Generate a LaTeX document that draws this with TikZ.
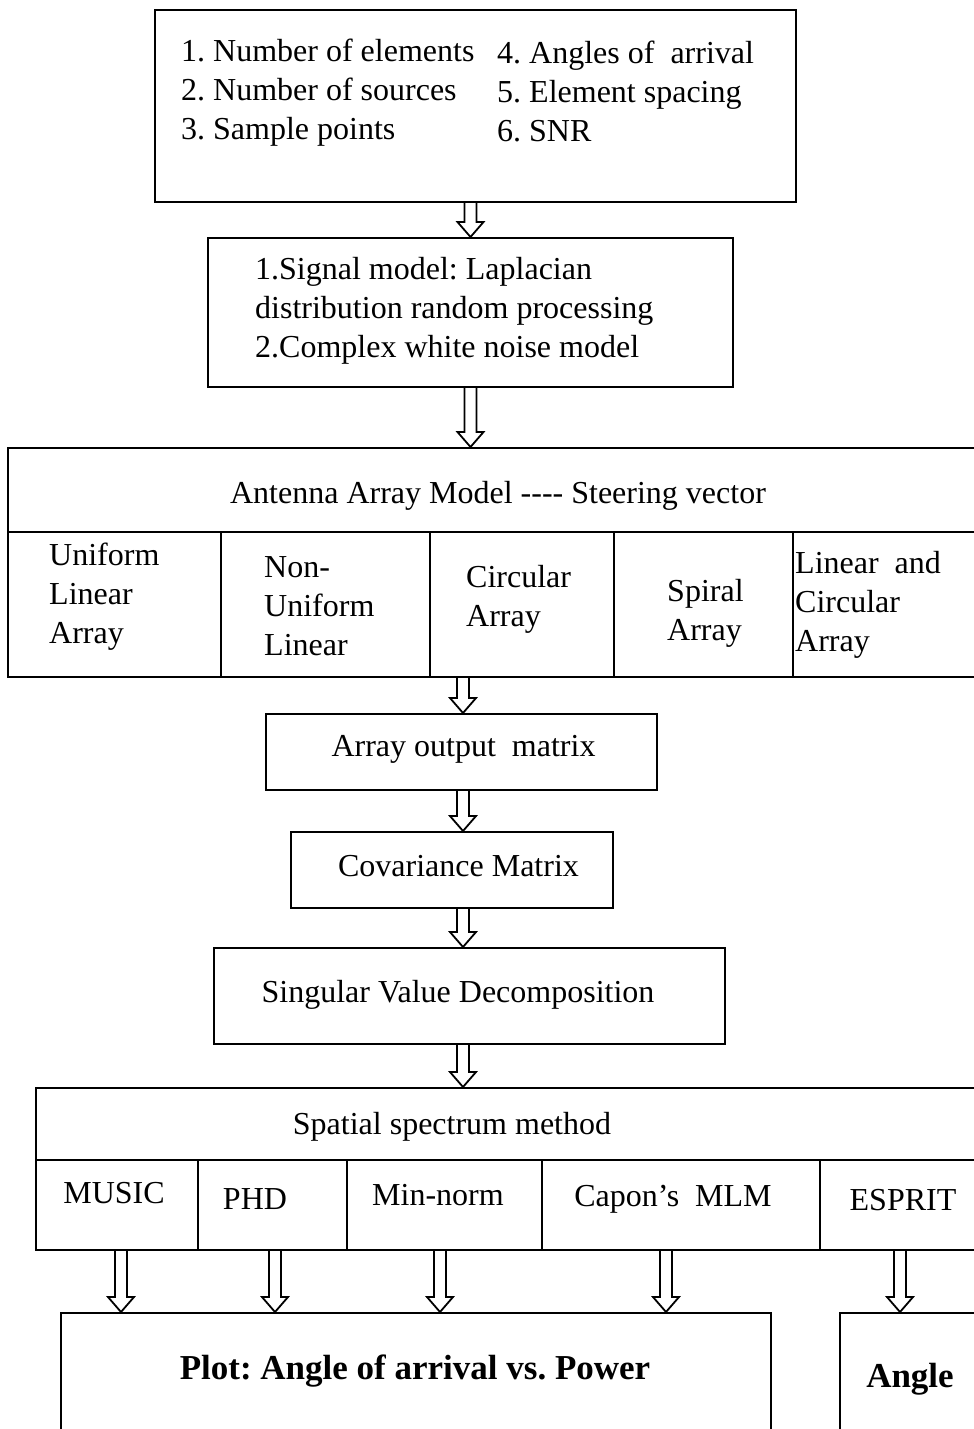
\documentclass[tikz,border=0pt]{standalone}
\usepackage{fontspec}
\setmainfont{Liberation Serif}
\usetikzlibrary{calc}
\frenchspacing

\tikzset{
  box/.style={draw, line width=2pt, inner sep=0pt},
  txt/.style={align=left, inner sep=0pt, font=\fontsize{32}{39}\selectfont},
  bigtxt/.style={inner sep=0pt, font=\fontsize{35}{40}\selectfont\bfseries},
  arrowline/.style={line width=1.8pt, line join=miter}
}
% hollow down arrow, open at the top
\newcommand{\hollowarrow}[2]{%
  \draw [arrowline] ($(#1)+(-6,0)$) -- ($(#2)+(-6,-15)$) -- ($(#2)+(-13,-15)$)
    -- (#2) -- ($(#2)+(13,-15)$) -- ($(#2)+(6,-15)$) -- ($(#1)+(6,0)$);}

\begin{document}
\begin{tikzpicture}[x=1pt, y=-1pt]
\useasboundingbox (0,0) rectangle (974,1429);
\clip (0,0) rectangle (974,1429);

% parameters
\node [box, minimum width=641pt, minimum height=192pt] (params) at (475.5,106) {};
\node [txt, anchor=west] (paramsleft) at (181,93) {1. Number of elements\\2. Number of sources\\3. Sample points};
\node [txt, anchor=west] (paramsright) at (497,91) {4. Angles of~ arrival\\5. Element spacing\\6. SNR};

% signal model
\node [box, minimum width=525pt, minimum height=149pt] (signal) at (470.5,312.5) {};
\node [txt, anchor=west] (signaltext) at (255,311) {1.Signal model: Laplacian\\distribution random processing\\2.Complex white noise model};

% antenna array model
\node [box, minimum width=1002pt, minimum height=84pt] (antenna) at (509,490) {};
\node [txt] (antennatext) at (498,496) {Antenna Array Model -{}-{}-{}- Steering vector};
\node [box, minimum width=213pt, minimum height=145pt] (ula) at (114.5,604.5) {};
\node [box, minimum width=209pt, minimum height=145pt] (nul) at (325.5,604.5) {};
\node [box, minimum width=184pt, minimum height=145pt] (circ) at (522,604.5) {};
\node [box, minimum width=179pt, minimum height=145pt] (spiral) at (703.5,604.5) {};
\node [box, minimum width=217pt, minimum height=145pt] (lca) at (901.5,604.5) {};
\node [txt, anchor=west] (ulatext) at (49,597) {Uniform\\Linear\\Array};
\node [txt, anchor=west] (nultext) at (264,606) {Non-\\Uniform\\Linear};
\node [txt, anchor=west] (circtext) at (466,599) {Circular\\Array};
\node [txt, anchor=west] (spiraltext) at (667,613) {Spiral\\Array};
\node [txt, anchor=west] (lcatext) at (795,605) {Linear~~and\\Circular\\Array};

% processing chain
\node [box, minimum width=391pt, minimum height=76pt] (output) at (461.5,752) {};
\node [txt] (outputtext) at (463.5,749) {Array output~~matrix};
\node [box, minimum width=322pt, minimum height=76pt] (cov) at (452,870) {};
\node [txt] (covtext) at (458.5,866) {Covariance Matrix};
\node [box, minimum width=511pt, minimum height=96pt] (svd) at (469.5,996) {};
\node [txt] (svdtext) at (458,995) {Singular Value Decomposition};

% spatial spectrum methods
\node [box, minimum width=974pt, minimum height=72pt] (spectrum) at (523,1124) {};
\node [txt] (spectrumtext) at (452,1127) {Spatial spectrum method};
\node [box, minimum width=162pt, minimum height=90pt] (music) at (117,1205) {};
\node [box, minimum width=149pt, minimum height=90pt] (phd) at (272.5,1205) {};
\node [box, minimum width=195pt, minimum height=90pt] (minnorm) at (444.5,1205) {};
\node [box, minimum width=278pt, minimum height=90pt] (capon) at (681,1205) {};
\node [box, minimum width=190pt, minimum height=90pt] (esprit) at (915,1205) {};
\node [txt] (musictext) at (114,1193) {MUSIC};
\node [txt] (phdtext) at (255,1199) {PHD};
\node [txt] (minnormtext) at (438,1195) {Min-norm};
\node [txt] (capontext) at (673,1199) {Capon’s~~MLM};
\node [txt] (esprittext) at (903,1200) {ESPRIT};

% results
\node [box, minimum width=710pt, minimum height=137pt] (plot) at (416,1381.5) {};
\node [box, minimum width=170pt, minimum height=137pt] (angle) at (925,1381.5) {};
\node [bigtxt] (plottext) at (415,1371) {Plot: Angle of arrival vs. Power};
\node [bigtxt] (angletext) at (910,1379) {Angle};

% arrows
\coordinate (spine) at (463,0);
\hollowarrow{signal.north |- params.south}{signal.north}
\hollowarrow{signal.south}{signal.south |- antenna.north}
\foreach \from/\to in {ula/output, output/cov, cov/svd, svd/spectrum} {
  \coordinate (arrtop) at (spine |- \from.south);
  \coordinate (arrtip) at (spine |- \to.north);
  \hollowarrow{arrtop}{arrtip}
}
\foreach \cell/\dx/\to in {music/4/plot, phd/2.5/plot, minnorm/-4.5/plot, capon/-15/plot, esprit/-15/angle} {
  \coordinate (arrtop) at ([xshift=\dx pt]\cell.south);
  \coordinate (arrtip) at (arrtop |- \to.north);
  \hollowarrow{arrtop}{arrtip}
}
\end{tikzpicture}
\end{document}
